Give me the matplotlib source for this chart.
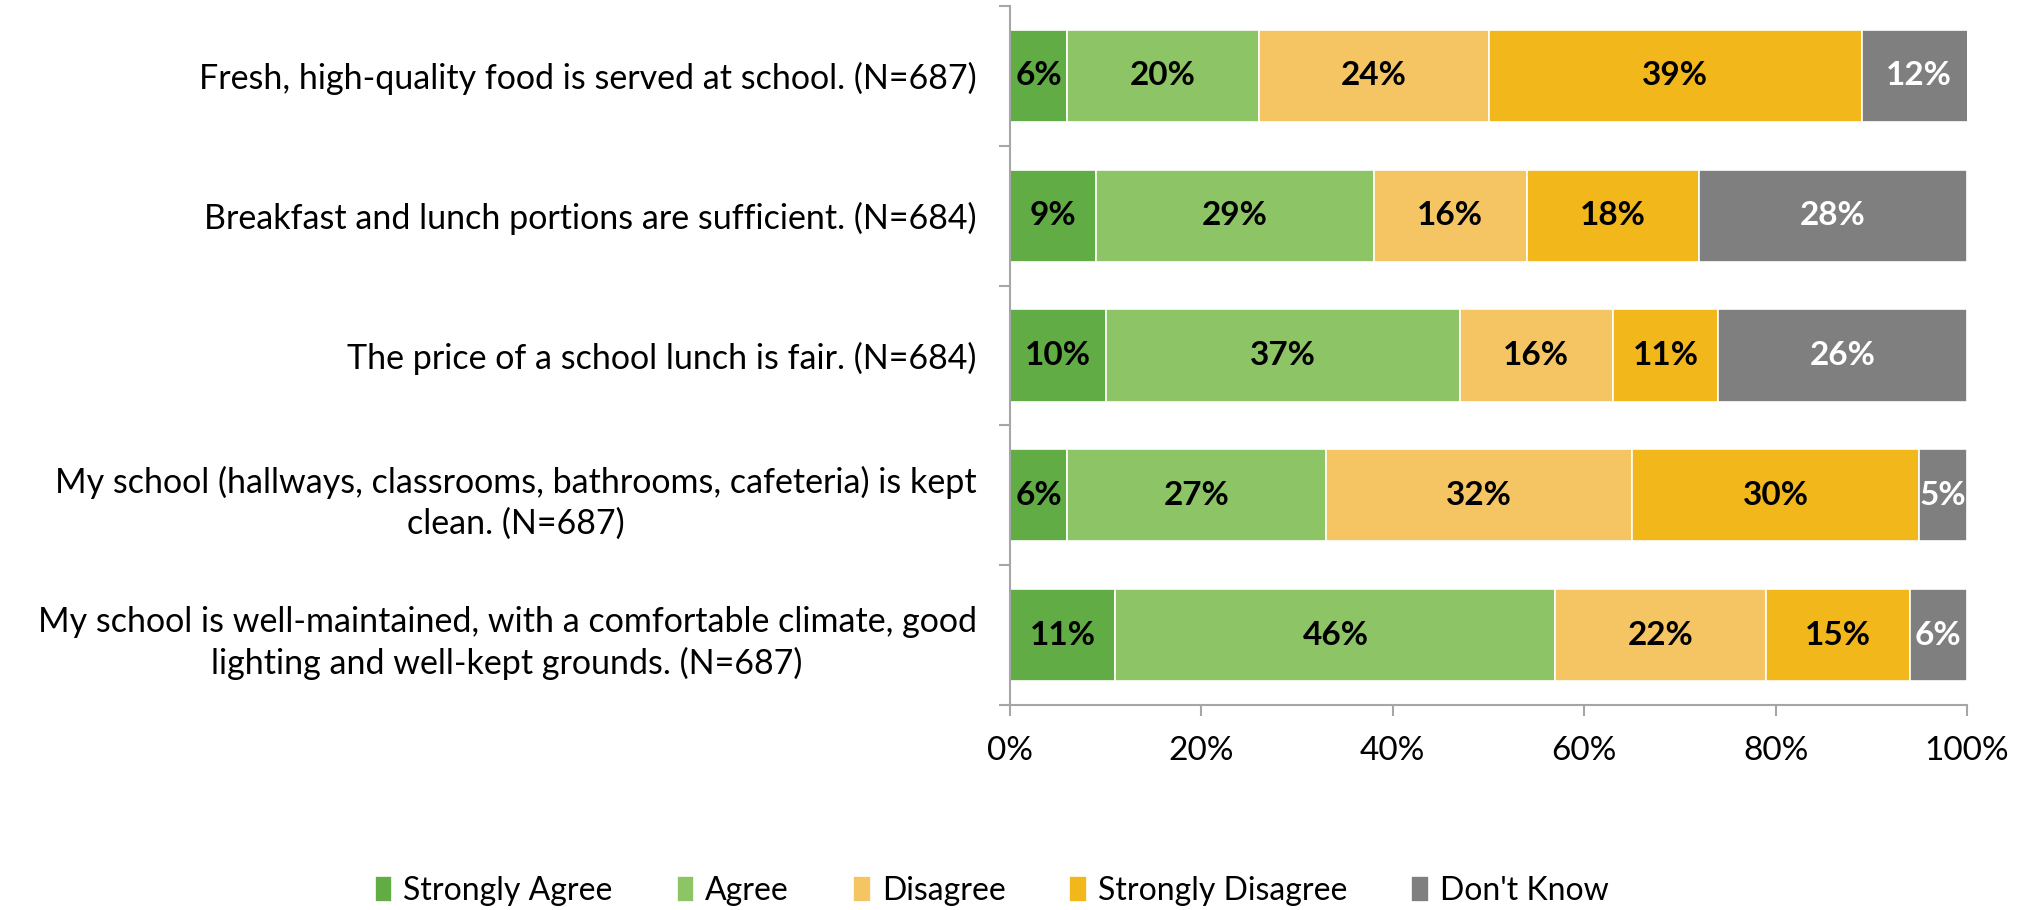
import matplotlib
matplotlib.use("Agg")
import matplotlib.pyplot as plt
import numpy as np

categories = [
    "Fresh, high-quality food is served at school. (N=687)",
    "Breakfast and lunch portions are sufficient. (N=684)",
    "The price of a school lunch is fair. (N=684)",
    "My school (hallways, classrooms, bathrooms, cafeteria) is kept\nclean. (N=687)",
    "My school is well-maintained, with a comfortable climate, good\nlighting and well-kept grounds. (N=687)",
]
series_names = ["Strongly Agree", "Agree", "Disagree", "Strongly Disagree", "Don't Know"]
strongly_agree = [6, 9, 10, 6, 11]
agree = [20, 29, 37, 27, 46]
disagree = [24, 16, 16, 32, 22]
strongly_disagree = [39, 18, 11, 30, 15]
dont_know = [12, 28, 26, 5, 6]
xticks = [0, 20, 40, 60, 80, 100]

colors = ["#62AC45", "#8DC466", "#F6C563", "#F2B71B", "#7F7F7F"]
text_colors = ["black", "black", "black", "black", "white"]

plt.rcParams["font.family"] = ["Lato", "DejaVu Sans"]
FS = 24

fig = plt.figure(figsize=(20.28, 9.10), dpi=100)
ax = fig.add_axes([1010 / 2028, 1 - 705 / 910, (1967 - 1010) / 2028, (705 - 6) / 910])

data = [strongly_agree, agree, disagree, strongly_disagree, dont_know]
y = np.arange(len(categories))
left = np.zeros(len(categories))
for vals, name, col, tcol in zip(data, series_names, colors, text_colors):
    vals = np.array(vals, dtype=float)
    ax.barh(y, vals, left=left, height=0.66, color=col, edgecolor="white",
            linewidth=1.2, label=name)
    for yi, (l, v) in enumerate(zip(left, vals)):
        ax.text(l + v / 2, yi, f"{int(v)}%", ha="center", va="center",
                color=tcol, fontsize=FS, fontweight="bold")
    left += vals

ax.set_xlim(0, 100)
ax.set_ylim(len(categories) - 0.5, -0.5)
ax.set_xticks(xticks)
ax.set_xticklabels([f"{t}%" for t in xticks], fontsize=FS)
ax.set_yticks(y)
ax.set_yticklabels(categories, fontsize=24.5, ha="right", multialignment="center",
                   linespacing=1.35)
ax.tick_params(axis="y", length=0, pad=24)
ax.set_yticks(np.arange(-0.5, len(categories) + 0.5, 1), minor=True)
ax.tick_params(axis="y", which="minor", length=8, color="#A6A6A6", width=1.5)
ax.tick_params(axis="x", length=8, color="#A6A6A6", width=1.5, pad=14)

for s in ["top", "right"]:
    ax.spines[s].set_visible(False)
for s in ["left", "bottom"]:
    ax.spines[s].set_color("#A6A6A6")
    ax.spines[s].set_linewidth(1.5)

handles, labels = ax.get_legend_handles_labels()
fig.legend(handles, labels, loc="center", bbox_to_anchor=(0.489, 1 - 891 / 910),
           ncol=5, frameon=False, fontsize=23, handlelength=0.55, handleheight=0.9,
           handletextpad=0.35, columnspacing=2.0)

fig.savefig("out.png", dpi=100)
